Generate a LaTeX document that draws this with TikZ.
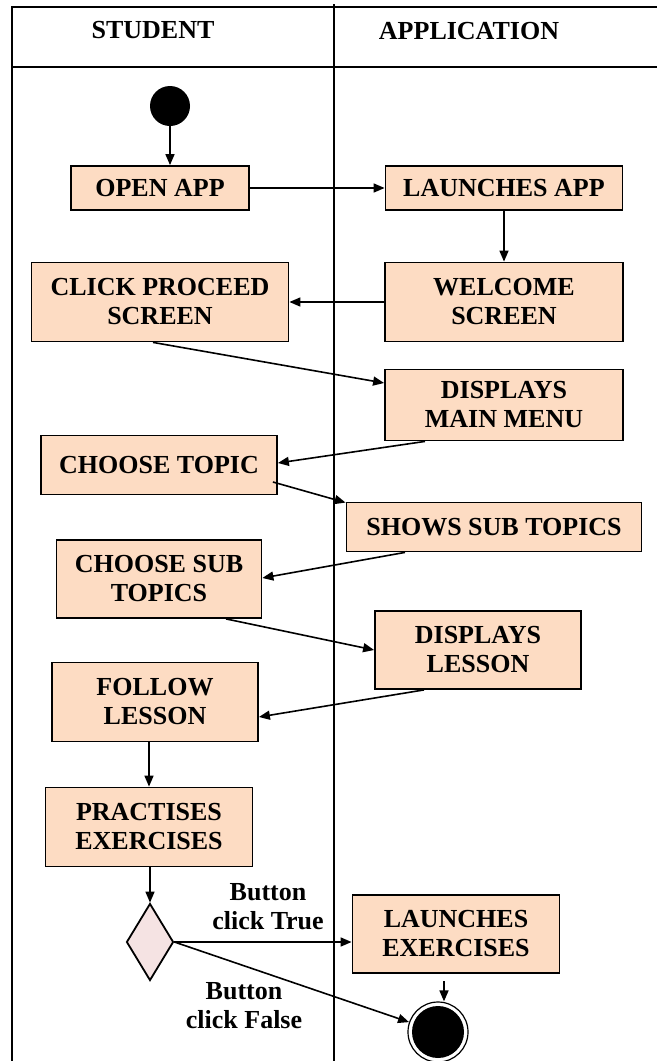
\documentclass[tikz,border=0pt]{standalone}
\usepackage{fontspec}
\setmainfont{Liberation Serif}
\usetikzlibrary{arrows.meta,shapes.geometric}
\definecolor{peach}{HTML}{FDDCC3}
\definecolor{pinkd}{HTML}{F5E3E3}
\begin{document}
\begin{tikzpicture}[x=1pt,y=-1pt,
  txt/.style={font=\fontsize{26}{29}\selectfont\bfseries, align=center, inner sep=0pt},
  actbox/.style={txt, draw, line width=1.8pt, fill=peach},
  arr/.style={line width=1.6pt, -{Triangle[length=11pt,width=9pt]}},
  frame/.style={line width=2pt}]
\useasboundingbox (0,0) rectangle (657,1061);
% frame
\draw[frame] (12,1061) -- (12,7) -- (657,7);
\draw[frame] (12,67) -- (657,67);
\draw[frame] (334,4) -- (334,1061);
\node[txt] (hs) at (153,30) {STUDENT};
\node[txt] (ha) at (469,31) {APPLICATION};
% nodes
\node[circle, fill=black, minimum size=40pt, inner sep=0pt] (start) at (170,106) {};
\node[actbox, minimum width=178pt, minimum height=44pt] (openapp) at (160,188) {OPEN APP};
\node[actbox, minimum width=237pt, minimum height=44pt] (launch) at (504,188) {LAUNCHES APP};
\node[actbox, minimum width=257pt, minimum height=79pt] (click) at (160,302) {CLICK PROCEED\\SCREEN};
\node[actbox, minimum width=238pt, minimum height=79pt] (welcome) at (504,302) {WELCOME\\SCREEN};
\node[actbox, minimum width=238pt, minimum height=71pt] (mainmenu) at (504,405) {DISPLAYS\\MAIN MENU};
\node[actbox, minimum width=236pt, minimum height=59pt] (topic) at (159,465) {CHOOSE TOPIC};
\node[actbox, minimum width=295pt, minimum height=49pt] (shows) at (494,527) {SHOWS SUB TOPICS};
\node[actbox, minimum width=205pt, minimum height=78pt] (subtopic) at (159,579) {CHOOSE SUB\\TOPICS};
\node[actbox, minimum width=206pt, minimum height=78pt] (lesson) at (478,650) {DISPLAYS\\LESSON};
\node[actbox, minimum width=206pt, minimum height=79pt] (follow) at (155,702) {FOLLOW\\LESSON};
\node[actbox, minimum width=207pt, minimum height=79pt] (practise) at (149,827) {PRACTISES\\EXERCISES};
\node[diamond, draw, line width=1.8pt, fill=pinkd, minimum width=47pt, minimum height=77pt, inner sep=0pt] (dec) at (150,942) {};
\node[actbox, minimum width=207pt, minimum height=78pt] (launchex) at (456,934) {LAUNCHES\\EXERCISES};
\node[circle, draw, line width=1.2pt, minimum size=60pt, inner sep=0pt] (endc) at (438,1032) {};
\fill (endc.center) circle (26);
\node[txt] (ltrue) at (268,907) {Button\\click True};
\node[txt] (lfalse) at (244,1006) {Button\\click False};
% connectors
\draw[arr] (start.south) -- (start.south |- openapp.north);
\draw[arr] (openapp.east) -- (launch.west);
\draw[arr] (launch.south) -- (welcome.north);
\draw[arr] (welcome.west) -- (click.east);
\draw[arr] ([xshift=-7pt]click.south) -- ([yshift=22pt]mainmenu.west);
\draw[arr] ([xshift=-79pt]mainmenu.south) -- ([yshift=2pt]topic.east);
\draw[arr] ([shift={(-5pt,-17pt)}]topic.east) -- ([shift={(0pt,-1pt)}]shows.north west);
\draw[arr] ([xshift=-89pt]shows.south) -- ([yshift=1pt]subtopic.east);
\draw[arr] ([xshift=67pt]subtopic.south) -- (lesson.west);
\draw[arr] ([xshift=-54pt]lesson.south) -- ([yshift=-15pt]follow.east);
\draw[arr] (practise.north |- follow.south) -- (practise.north);
\draw[arr] (practise.south -| dec.north) -- (dec.north);
\draw[arr] (dec.east) -- (dec.east -| launchex.west);
\draw[arr] (dec.east) -- (endc);
\coordinate (a1) at (444,981);
\draw[arr] (a1) -- (a1 |- endc.north);
\end{tikzpicture}
\end{document}
